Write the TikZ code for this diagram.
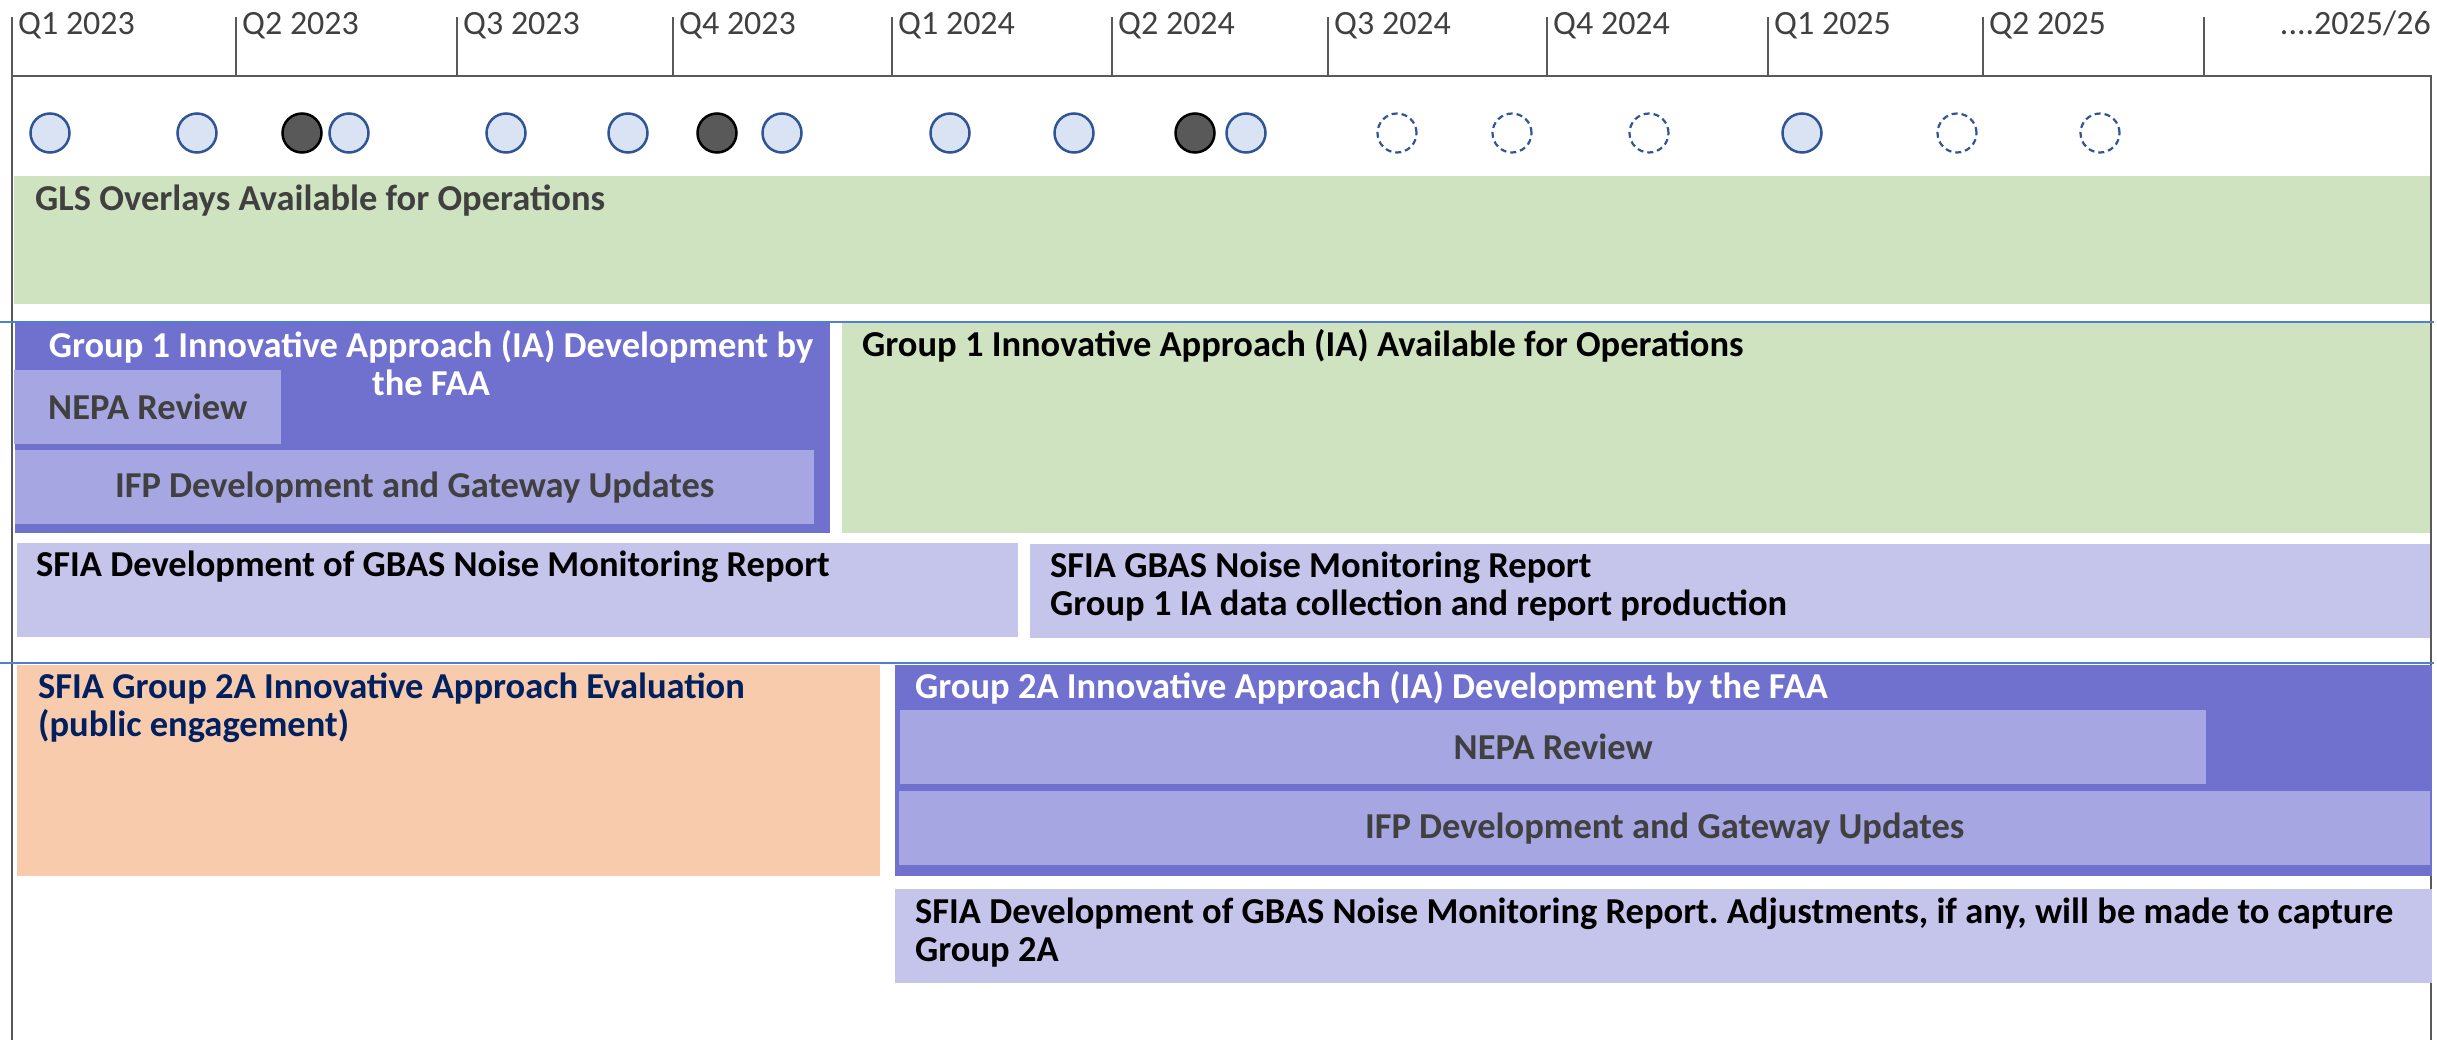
\documentclass[tikz,border=0pt]{standalone}
\usepackage{fontspec}
\setmainfont{Carlito}
\usepackage{tikz}
\frenchspacing
\definecolor{framegray}{RGB}{89,89,89}
\definecolor{txtgray}{RGB}{64,64,64}
\definecolor{navytxt}{RGB}{0,32,96}
\definecolor{rowblue}{RGB}{79,129,210}
\definecolor{msblue}{RGB}{47,85,151}
\definecolor{mslight}{RGB}{218,227,243}
\definecolor{msdark}{RGB}{89,89,89}
\definecolor{opsgreen}{RGB}{207,227,193}
\definecolor{faapurple}{RGB}{112,112,207}
\definecolor{subpurple}{RGB}{166,166,226}
\definecolor{rptlav}{RGB}{197,197,236}
\definecolor{evalorange}{RGB}{248,203,173}
\newcommand\qlabelfont{\fontsize{34}{38}\selectfont}
\newcommand\gbarfont{\fontsize{36.5}{38}\selectfont\bfseries}
\newcommand\tstrut{\rule{0pt}{28pt}}
\tikzset{
  frameline/.style={draw=framegray, line width=1.5pt},
  rowline/.style={draw=rowblue, line width=2pt},
  qlabel/.style={anchor=base west, inner sep=0pt, font=\qlabelfont, text=txtgray},
  msfill/.style={circle, minimum size=39pt, inner sep=0pt, line width=2.5pt,
    draw=msblue, fill=mslight},
  msdone/.style={circle, minimum size=39pt, inner sep=0pt, line width=2.5pt,
    draw=black, fill=msdark},
  msplan/.style={circle, minimum size=39pt, inner sep=0pt, line width=2.2pt,
    draw=msblue, fill=white, dash pattern=on 6pt off 4pt},
  bar/.style={rectangle, anchor=north west, inner sep=0pt, draw=none},
  subbar/.style={rectangle, anchor=north west, inner sep=0pt, draw=none,
    fill=subpurple, font=\gbarfont, text=txtgray},
  bartext/.style={anchor=base west, inner sep=0pt, font=\gbarfont, align=left},
  bartwo/.style={bartext, anchor=north west}
}

\begin{document}
\begin{tikzpicture}[x=1pt, y=-1pt]
\useasboundingbox (0,0) rectangle (2437,1040);

% quarters
\draw[frameline] (12,17) -- (12,1040);
\draw[frameline] (12,76) -- (2431,76) -- (2431,1040);
\node[qlabel] (q-12) at (18,35) {Q1 2023};
\foreach \x/\q in {236/Q2 2023, 457/Q3 2023, 673/Q4 2023, 892/Q1 2024,
    1112/Q2 2024, 1328/Q3 2024, 1547/Q4 2024, 1768/Q1 2025, 1983/Q2 2025} {
  \draw[frameline] (\x,17) -- (\x,76);
  \node[qlabel] (q-\x) at (\x+6,35) {\q};
}
\draw[frameline] (2204,17) -- (2204,76);
\node[qlabel, anchor=base east] (q-end) at (2431,35) {....2025/26};

% milestones
\foreach \x in {50,197,349,506,628,782,950,1074,1246,1802}
  \node[msfill] (ms-\x) at (\x,133) {};
\foreach \x in {302,717,1195}
  \node[msdone] (ms-\x) at (\x,133) {};
\foreach \x in {1397,1512,1649,1957,2100}
  \node[msplan] (ms-\x) at (\x,133) {};

% GLS row
\node[bar, fill=opsgreen, minimum width=2416, minimum height=128] (gls) at (14,176) {};
\node[bartext, text=txtgray] (gls-t) at ([shift={(21,35)}]gls.north west)
  {GLS Overlays Available for Operations};

% Group 1 rows
\draw[rowline] (0,322) -- (2434,322);
\node[bar, fill=faapurple, minimum width=815, minimum height=210] (g1dev) at (15,323) {};
\node[bartext, anchor=north, align=center, text=white] (g1dev-t) at (431,329)
  {\tstrut Group 1 Innovative Approach (IA) Development by\\the FAA};
\node[subbar, minimum width=267, minimum height=74] (g1nepa) at (14,370) {NEPA Review};
\node[subbar, minimum width=799, minimum height=74] (g1ifp) at (15,450)
  {IFP Development and Gateway Updates};
\node[bar, fill=opsgreen, minimum width=1588, minimum height=210] (g1ops) at (842,323) {};
\node[bartext, text=black] (g1ops-t) at ([shift={(20,34)}]g1ops.north west)
  {Group 1 Innovative Approach (IA) Available for Operations};
\node[bar, fill=rptlav, minimum width=1001, minimum height=94] (g1rpt) at (17,543) {};
\node[bartext, text=black] (g1rpt-t) at ([shift={(19,33)}]g1rpt.north west)
  {SFIA Development of GBAS Noise Monitoring Report};
\node[bar, fill=rptlav, minimum width=1400, minimum height=94] (g1mon) at (1030,544) {};
\node[bartwo, text=black] (g1mon-t) at ([shift={(20,5)}]g1mon.north west)
  {\tstrut SFIA GBAS Noise Monitoring Report\\Group 1 IA data collection and report production};

% Group 2A rows
\draw[rowline] (0,663) -- (2434,663);
\node[bar, fill=evalorange, minimum width=863, minimum height=211] (g2eval) at (17,665) {};
\node[bartwo, text=navytxt] (g2eval-t) at ([shift={(21,5)}]g2eval.north west)
  {\tstrut SFIA Group 2A Innovative Approach Evaluation\\(public engagement)};
\node[bar, fill=faapurple, minimum width=1537, minimum height=211] (g2dev) at (895,665) {};
\node[bartext, text=white] (g2dev-t) at ([shift={(20,33)}]g2dev.north west)
  {Group 2A Innovative Approach (IA) Development by the FAA};
\node[subbar, minimum width=1306, minimum height=74] (g2nepa) at (900,710) {NEPA Review};
\node[subbar, minimum width=1531, minimum height=74] (g2ifp) at (899,791)
  {IFP Development and Gateway Updates};
\node[bar, fill=rptlav, minimum width=1537, minimum height=94] (g2rpt) at (895,889) {};
\node[bartwo, text=black] (g2rpt-t) at ([shift={(20,6)}]g2rpt.north west)
  {\tstrut SFIA Development of GBAS Noise Monitoring Report. Adjustments, if any, will be made to capture\\Group 2A};
\end{tikzpicture}
\end{document}
